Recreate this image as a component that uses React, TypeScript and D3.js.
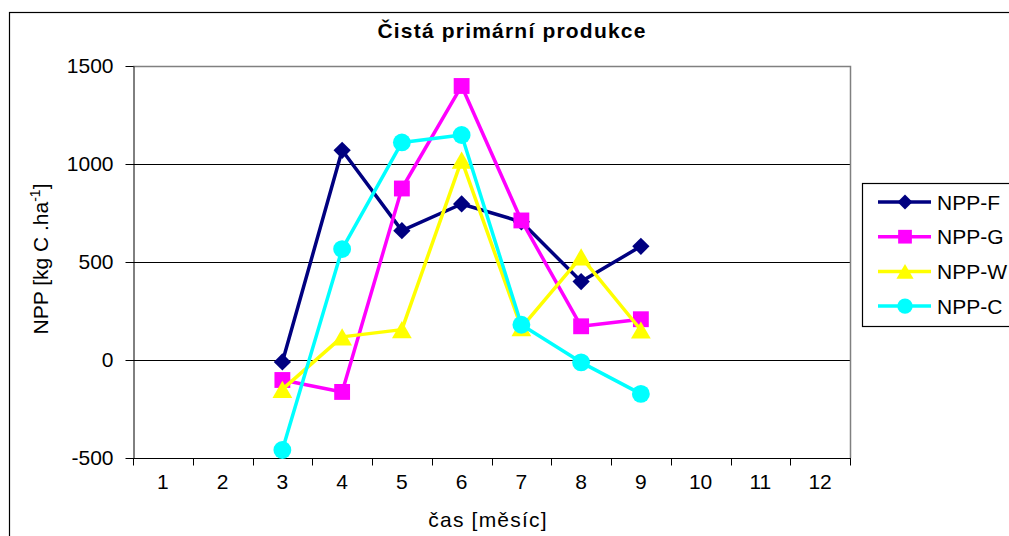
import * as d3 from "d3";
import { useRef, useEffect } from "react";

const months = ["1", "2", "3", "4", "5", "6", "7", "8", "9", "10", "11", "12"];
const yTicks = [-500, 0, 500, 1000, 1500];

const nppF = [-10, 1070, 660, 796, 705, 400, 580];
const nppG = [-102, -163, 875, 1398, 712, 172, 208];
const nppW = [-150, 118, 155, 1020, 165, 526, 153];
const nppC = [-459, 566, 1110, 1148, 180, -12, -173];
const startMonth = 3;

const series = [
  { name: "NPP-F", color: "#000080", marker: "diamond", values: nppF },
  { name: "NPP-G", color: "#FF00FF", marker: "square", values: nppG },
  { name: "NPP-W", color: "#FFFF00", marker: "triangle", values: nppW },
  { name: "NPP-C", color: "#00FFFF", marker: "circle", values: nppC },
];

const symbolFor: Record<string, any> = {
  diamond: d3.symbolDiamond2,
  square: d3.symbolSquare2,
  triangle: d3.symbolTriangle2,
  circle: d3.symbolCircle,
};
const sizeFor: Record<string, number> = {
  diamond: 190,
  square: 320,
  triangle: 280,
  circle: 250,
};

// vertical shift so the triangle's bounding box is centred on the point
const markerShift = (m: string, scale: number) =>
  m === "triangle" ? (Math.sqrt(sizeFor[m] * scale) * 0.6824) / 4 : 0;

export default function App() {
  const svgRef = useRef(null);

  useEffect(() => {
    const width = 1009;
    const height = 536;
    const svg = d3.select(svgRef.current).attr("width", width).attr("height", height);
    svg.selectAll("*").remove();

    const font = "'Liberation Sans', Arial, sans-serif";
    const left = 133, right = 850, top = 66, bottom = 458;

    svg.append("rect").attr("width", width).attr("height", height).attr("fill", "#fff");
    // outer chart border
    svg.append("rect")
      .attr("x", 9.5).attr("y", 12.5)
      .attr("width", 1100).attr("height", 600)
      .attr("fill", "none").attr("stroke", "#000").attr("stroke-width", 1.2);

    const x = d3.scaleBand().domain(months).range([left, right]);
    const y = d3.scaleLinear().domain([-500, 1500]).range([bottom, top]);

    // gridlines
    svg.append("g")
      .selectAll("line")
      .data(yTicks.slice(1, -1))
      .join("line")
      .attr("x1", left).attr("x2", right)
      .attr("y1", (d) => Math.round(y(d)) + 0.5).attr("y2", (d) => Math.round(y(d)) + 0.5)
      .attr("stroke", "#000").attr("stroke-width", 1);

    // plot area border (top/right gray)
    svg.append("path")
      .attr("d", `M${left},${top + 0.5}H${right + 0.5}V${bottom}`)
      .attr("fill", "none").attr("stroke", "#808080").attr("stroke-width", 1.5);

    // y axis
    const yAxis = svg.append("g")
      .attr("transform", `translate(${left + 0.5},0)`)
      .call(
        d3.axisLeft(y).tickValues(yTicks).tickFormat((d) => String(d))
          .tickSize(8).tickSizeOuter(0).tickPadding(12)
      );
    yAxis.select(".domain").attr("stroke", "#000");
    yAxis.selectAll(".tick line").attr("stroke", "#000");
    yAxis.selectAll("text").attr("font-family", font).attr("font-size", 21).attr("fill", "#000");

    // x axis
    const xAxis = svg.append("g").attr("transform", `translate(0,${bottom + 0.5})`);
    xAxis.append("line").attr("x1", left).attr("x2", right + 1).attr("stroke", "#000");
    xAxis.selectAll("line.tk")
      .data(d3.range(months.length + 1))
      .join("line")
      .attr("class", "tk")
      .attr("x1", (i) => Math.round(left + i * x.bandwidth()) + 0.5)
      .attr("x2", (i) => Math.round(left + i * x.bandwidth()) + 0.5)
      .attr("y1", 0).attr("y2", 7)
      .attr("stroke", "#000");
    xAxis.selectAll("text")
      .data(months)
      .join("text")
      .attr("x", (d) => x(d)! + x.bandwidth() / 2)
      .attr("y", 30)
      .attr("text-anchor", "middle")
      .attr("font-family", font).attr("font-size", 21)
      .text((d) => d);

    // series
    const line = d3.line<number>()
      .x((_, i) => x(String(startMonth + i))! + x.bandwidth() / 2)
      .y((d) => y(d));

    series.forEach((s) => {
      const g = svg.append("g");
      g.append("path")
        .attr("d", line(s.values))
        .attr("fill", "none").attr("stroke", s.color).attr("stroke-width", 3.5)
        .attr("stroke-linejoin", "round");
      g.selectAll("path.m")
        .data(s.values)
        .join("path")
        .attr("class", "m")
        .attr("transform", (d, i) => {
          const cx = x(String(startMonth + i))! + x.bandwidth() / 2;
          return `translate(${cx},${y(d) + markerShift(s.marker, 1)})`;
        })
        .attr("d", d3.symbol().type(symbolFor[s.marker]).size(sizeFor[s.marker])())
        .attr("fill", s.color);
    });

    // title
    svg.append("text")
      .attr("x", 512).attr("y", 38)
      .attr("text-anchor", "middle")
      .attr("font-family", font).attr("font-size", 21).attr("font-weight", "bold")
      .attr("letter-spacing", 1.2)
      .text("Čistá primární produkce");

    // axis titles
    svg.append("text")
      .attr("x", 488).attr("y", 527)
      .attr("text-anchor", "middle")
      .attr("font-family", font).attr("font-size", 21)
      .attr("letter-spacing", 1.2)
      .text("čas [měsíc]");

    const yl = svg.append("text")
      .attr("transform", `translate(48,${259}) rotate(-90)`)
      .attr("text-anchor", "middle")
      .attr("font-family", font).attr("font-size", 21);
    yl.append("tspan").text("NPP [kg C .ha");
    yl.append("tspan").attr("dy", -8).attr("font-size", 14).text("-1");
    yl.append("tspan").attr("dy", 8).text("]");

    // legend
    const lg = svg.append("g");
    lg.append("rect")
      .attr("x", 862.5).attr("y", 183.5)
      .attr("width", 200).attr("height", 143)
      .attr("fill", "#fff").attr("stroke", "#000").attr("stroke-width", 1.2);
    const ls = 0.75;
    series.forEach((s, i) => {
      const cy = 202 + i * 34.7;
      lg.append("line")
        .attr("x1", 878).attr("x2", 931)
        .attr("y1", cy).attr("y2", cy)
        .attr("stroke", s.color).attr("stroke-width", 3.5);
      lg.append("path")
        .attr("transform", `translate(905,${cy + markerShift(s.marker, ls)})`)
        .attr("d", d3.symbol().type(symbolFor[s.marker]).size(sizeFor[s.marker] * ls)())
        .attr("fill", s.color);
      lg.append("text")
        .attr("x", 937).attr("y", cy + 7.5)
        .attr("font-family", font).attr("font-size", 21)
        .text(s.name);
    });
  }, []);

  return (
    <svg ref={svgRef} style={{ position: "absolute", left: 0, top: 0 }} />
  );
}
